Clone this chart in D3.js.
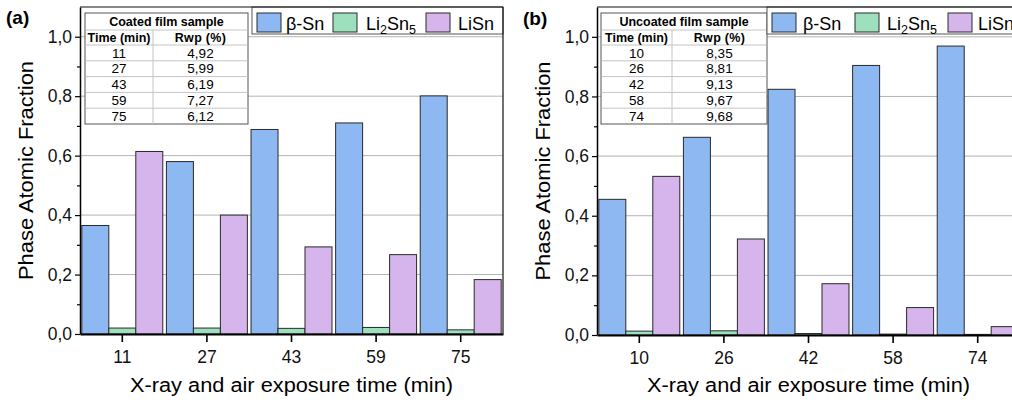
<!DOCTYPE html>
<html>
<head>
<meta charset="utf-8">
<script src="https://cdn.jsdelivr.net/npm/d3@7"></script>
<style>
  html, body { margin: 0; padding: 0; background: #fff; overflow: hidden; }
  svg { display: block; font-family: "Liberation Sans", Arial, sans-serif; }
</style>
</head>
<body>
<svg id="chart" width="1012" height="403"></svg>
<script>
// panel (a): coated film
var timesA = ["11", "27", "43", "59", "75"];
var betaSnA = [0.365, 0.580, 0.688, 0.710, 0.801];
var li2sn5A = [0.020, 0.020, 0.019, 0.022, 0.014];
var lisnA = [0.614, 0.400, 0.293, 0.267, 0.183];
var rwpA = ["4,92", "5,99", "6,19", "7,27", "6,12"];

// panel (b): uncoated film
var timesB = ["10", "26", "42", "58", "74"];
var betaSnB = [0.455, 0.663, 0.824, 0.904, 0.969];
var li2sn5B = [0.013, 0.014, 0.005, 0.003, 0.002];
var lisnB = [0.532, 0.322, 0.172, 0.092, 0.028];
var rwpB = ["8,35", "8,81", "9,13", "9,67", "9,68"];

var phases = ["betaSn", "li2sn5", "lisn"];
var colors = { betaSn: "#8db8f1", li2sn5: "#9de0bd", lisn: "#d5b5ec" };
var yMajor = [0, 0.2, 0.4, 0.6, 0.8, 1.0];
var yMinor = [0.1, 0.3, 0.5, 0.7, 0.9];

var fmt = d3.formatLocale({ decimal: ",", thousands: ".", grouping: [3], currency: ["", ""] }).format(".1f");
var svg = d3.select("#chart");

function panel(o) {
  var g = svg.append("g");
  var x0 = d3.scaleBand().domain(o.times).range([o.left, o.right]).paddingInner(0.043).paddingOuter(0.0215);
  var x1 = d3.scaleBand().domain(phases).range([0, x0.bandwidth()]);
  var y = d3.scaleLinear().domain([0, 1.1]).range([o.bottom, o.top]);

  // gridlines
  g.append("g").selectAll("line").data(yMajor.slice(1)).enter().append("line")
    .attr("x1", o.left).attr("x2", o.right)
    .attr("y1", function (d) { return y(d); }).attr("y2", function (d) { return y(d); })
    .attr("stroke", "#b4b4b4").attr("stroke-width", 1);

  // bars
  var rows = o.times.map(function (t, i) {
    return { t: t, betaSn: o.betaSn[i], li2sn5: o.li2sn5[i], lisn: o.lisn[i] };
  });
  g.append("g").selectAll("g").data(rows).enter().append("g")
    .attr("transform", function (d) { return "translate(" + x0(d.t) + ",0)"; })
    .selectAll("rect").data(function (d) { return phases.map(function (p) { return { p: p, v: d[p] }; }); })
    .enter().append("rect")
    .attr("x", function (d) { return x1(d.p); })
    .attr("width", x1.bandwidth())
    .attr("y", function (d) { return y(d.v); })
    .attr("height", function (d) { return y(0) - y(d.v); })
    .attr("fill", function (d) { return colors[d.p]; })
    .attr("stroke", "#2a2a2a").attr("stroke-width", 1);

  // table
  var tb = o.table, rh = (124 - 45) / 5;
  var t = g.append("g");
  t.append("rect").attr("x", tb.x0).attr("y", 13).attr("width", tb.x1 - tb.x0).attr("height", 111)
    .attr("fill", "#fff").attr("stroke", "#555").attr("stroke-width", 1);
  [30, 45, 45 + rh, 45 + 2 * rh, 45 + 3 * rh, 45 + 4 * rh].forEach(function (yy) {
    t.append("line").attr("x1", tb.x0 + 0.5).attr("x2", tb.x1 - 0.5).attr("y1", yy).attr("y2", yy)
      .attr("stroke", "#c4c4c4");
  });
  t.append("line").attr("x1", tb.col).attr("x2", tb.col).attr("y1", 30).attr("y2", 124).attr("stroke", "#c4c4c4");
  t.append("text").attr("x", (tb.x0 + tb.x1) / 2).attr("y", 26).attr("text-anchor", "middle")
    .attr("font-size", 12.5).attr("font-weight", "bold").text(o.sample);
  var c1 = (tb.x0 + tb.col) / 2, c2 = (tb.col + tb.x1) / 2;
  t.append("text").attr("x", c1).attr("y", 42).attr("text-anchor", "middle")
    .attr("font-size", 12.5).attr("font-weight", "bold").text("Time (min)");
  t.append("text").attr("x", c2).attr("y", 42).attr("text-anchor", "middle")
    .attr("font-size", 12.5).attr("font-weight", "bold").attr("letter-spacing", 0.3).text("Rwp (%)");
  o.times.forEach(function (tm, i) {
    var by = 45 + i * rh + rh / 2 + 4.6;
    t.append("text").attr("x", c1).attr("y", by).attr("text-anchor", "middle").attr("font-size", 13.5).text(tm);
    t.append("text").attr("x", c2).attr("y", by).attr("text-anchor", "middle").attr("font-size", 13.5).text(o.rwp[i]);
  });

  // legend
  var lg = o.legend;
  g.append("rect").attr("x", lg.x).attr("y", o.top).attr("width", o.right - lg.x).attr("height", 34 - o.top)
    .attr("fill", "#fff").attr("stroke", "#555").attr("stroke-width", 1);
  phases.forEach(function (p, i) {
    g.append("rect").attr("x", lg.sw[i]).attr("y", 13).attr("width", 24).attr("height", 19)
      .attr("fill", colors[p]).attr("stroke", "#2a2a2a").attr("stroke-width", 1);
  });
  var txt = function (x) { return g.append("text").attr("x", x).attr("y", 29.5).attr("font-size", 18); };
  txt(lg.tx[0]).text("\u03b2-Sn");
  var l2 = txt(lg.tx[1]);
  l2.append("tspan").text("Li");
  l2.append("tspan").attr("font-size", 12.5).attr("dy", 4.5).text("2");
  l2.append("tspan").attr("dy", -4.5).text("Sn");
  l2.append("tspan").attr("font-size", 12.5).attr("dy", 4.5).text("5");
  txt(lg.tx[2]).text("LiSn");

  // axes
  var ax = g.append("g").attr("transform", "translate(" + o.left + ",0)")
    .call(d3.axisLeft(y).tickValues(yMajor).tickSize(5).tickSizeOuter(0).tickPadding(3).tickFormat(fmt));
  ax.selectAll("text").attr("font-size", 17.5).attr("fill", "#111");
  ax.select(".domain").attr("stroke-width", 1.5);
  ax.selectAll(".tick line").attr("stroke-width", 1.2);
  g.append("g").attr("transform", "translate(" + o.left + ",0)")
    .call(d3.axisLeft(y).tickValues(yMinor).tickSize(3).tickFormat(""))
    .call(function (s) { s.select(".domain").remove(); s.selectAll(".tick line").attr("stroke-width", 1.2); });

  var bx = g.append("g").attr("transform", "translate(0," + o.bottom + ")")
    .call(d3.axisBottom(x0).tickSize(8).tickSizeOuter(0).tickPadding(9));
  bx.selectAll("text").attr("font-size", 17.5).attr("fill", "#111");
  bx.select(".domain").attr("stroke-width", 1.8);
  bx.selectAll(".tick line").attr("stroke-width", 1.6);

  // frame
  g.append("line").attr("x1", o.left).attr("x2", o.right).attr("y1", o.top).attr("y2", o.top)
    .attr("stroke", "#111").attr("stroke-width", 1.2);
  g.append("line").attr("x1", o.right).attr("x2", o.right).attr("y1", o.top).attr("y2", o.bottom)
    .attr("stroke", "#111").attr("stroke-width", 1.2);

  // titles
  g.append("text").attr("x", (o.left + o.right) / 2).attr("y", 392).attr("text-anchor", "middle")
    .attr("font-size", 20).attr("textLength", 323).attr("lengthAdjust", "spacingAndGlyphs")
    .text("X-ray and air exposure time (min)");
  g.append("text").attr("transform", "translate(" + (o.left - 47) + "," + (o.top + o.bottom) / 2 + ") rotate(-90)")
    .attr("text-anchor", "middle").attr("font-size", 20).attr("textLength", 219).attr("lengthAdjust", "spacingAndGlyphs")
    .text("Phase Atomic Fraction");
  g.append("text").attr("x", o.tag.x).attr("y", o.tag.y).attr("font-size", 19).attr("font-weight", "bold").text(o.tag.t);
}

panel({
  times: timesA, betaSn: betaSnA, li2sn5: li2sn5A, lisn: lisnA, rwp: rwpA,
  left: 80, right: 503, top: 7, bottom: 334, sample: "Coated film sample",
  table: { x0: 85, x1: 248, col: 153 },
  legend: { x: 252, sw: [257, 333, 426], tx: [286, 366, 458] },
  tag: { x: 6, y: 24, t: "(a)" }
});
panel({
  times: timesB, betaSn: betaSnB, li2sn5: li2sn5B, lisn: lisnB, rwp: rwpB,
  left: 597, right: 1020, top: 7, bottom: 335, sample: "Uncoated film sample",
  table: { x0: 601, x1: 767, col: 672 },
  legend: { x: 767, sw: [772, 855, 948], tx: [803, 887, 978] },
  tag: { x: 523, y: 25, t: "(b)" }
});
</script>
</body>
</html>
